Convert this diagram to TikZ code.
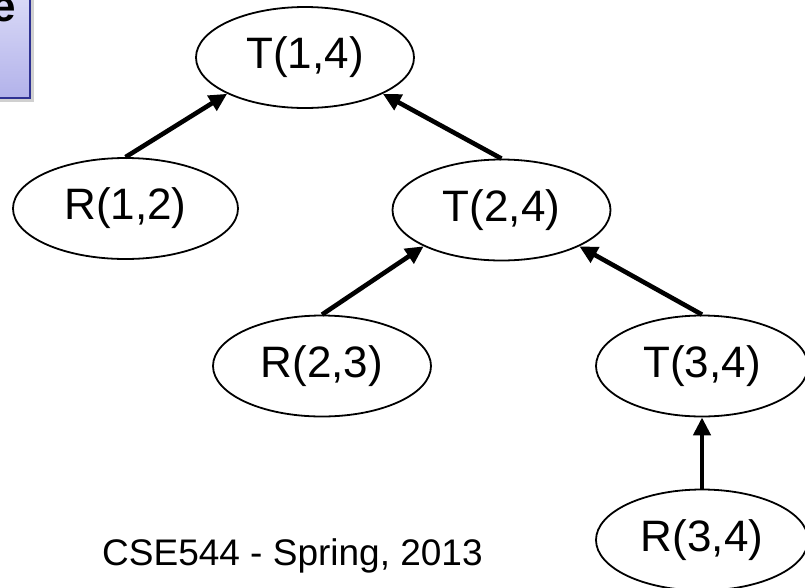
\documentclass[tikz,border=0pt]{standalone}
\usepackage{fontspec}
\setmainfont{Liberation Sans}
\usetikzlibrary{shapes.geometric,arrows.meta}
\definecolor{boxtop}{RGB}{218,218,247}
\definecolor{boxbot}{RGB}{178,178,234}
\definecolor{boxline}{RGB}{46,49,146}
\tikzset{
  oval/.style={draw=black, line width=1.8pt, ellipse, inner sep=0pt,
    minimum width=218pt, minimum height=101pt,
    font=\fontsize{44}{48}\selectfont},
  arr/.style={line width=4.6pt, -{Triangle[length=18pt,width=17pt]}},
}
\begin{document}
\begin{tikzpicture}[x=1pt,y=-1pt]
\useasboundingbox (0,0) rectangle (805,587);
\clip (0,0) rectangle (805,587);
\fill[white] (0,0) rectangle (805,587);
% partial title box
\fill[black!30, opacity=0.6] (-5,-5) rectangle (34,102);
\shade[top color=boxtop, bottom color=boxbot, draw=boxline, line width=2pt] (-5,-5) rectangle (30,98);
\node[anchor=base east, inner sep=0pt, font=\fontsize{44}{48}\selectfont\bfseries] (ttl) at (16,21) {e};
% nodes
\node[oval] (t14) at (305,57.5) {T(1,4)};
\node[oval, minimum width=225pt] (r12) at (125.5,208.5) {R(1,2)};
\node[oval] (t24) at (501.5,210) {T(2,4)};
\node[oval] (r23) at (322,366) {R(2,3)};
\node[oval, minimum width=212pt] (t34) at (702,366) {T(3,4)};
\node[oval, minimum width=212pt] (r34) at (702,540) {R(3,4)};
% edges
\draw[arr] (r12.north) -- (t14.205);
\draw[arr] (t24.north) -- (t14.335);
\draw[arr] (r23.north) -- (t24.205);
\draw[arr] (t34.north) -- (t24.335);
\draw[arr] (r34.north) -- (t34.south);
% footer
\node[anchor=base west, inner sep=0pt, font=\fontsize{37}{40}\selectfont] (foot) at (102,565) {CSE544 - Spring, 2013};
\end{tikzpicture}
\end{document}
